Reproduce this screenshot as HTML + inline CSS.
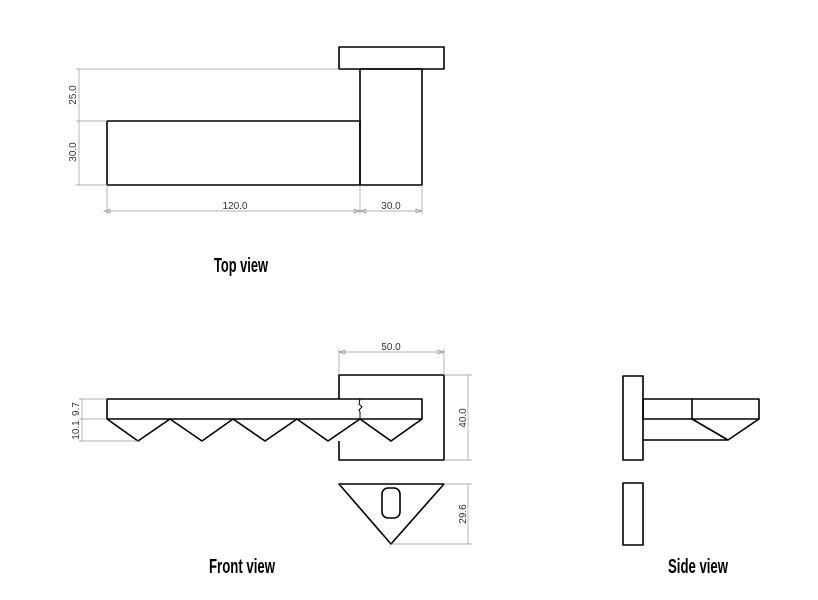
<!DOCTYPE html>
<html><head><meta charset="utf-8"><style>
html,body{margin:0;padding:0;background:#fff;}
svg{display:block;}
.o{fill:none;stroke:#000;stroke-width:1.6;stroke-linejoin:round;}
.d{fill:none;stroke:#999;stroke-width:0.7;}
.t{font-family:"Liberation Sans",sans-serif;font-size:10px;fill:#333;}
.h{font-family:"Liberation Sans Narrow","Liberation Sans",sans-serif;font-weight:bold;font-size:20px;fill:#000;}
</style></head><body>
<svg width="818" height="600" viewBox="0 0 818 600" xmlns="http://www.w3.org/2000/svg">
<!-- Top view -->
<rect class="o" x="339" y="47" width="105" height="22"/>
<rect class="o" x="360" y="69" width="62" height="116"/>
<rect class="o" x="107" y="121" width="253" height="64"/>
<path class="d" d="M79 69H339M79 121H107M79 185H107M79 69V185M76 69H82M76 121H82M76 185H82"/>
<path class="d" d="M107 185V214M360 185V214M422 185V214M107 211H422M104 211l6-2v4zM360 211l-6-2v4zM360 211l6-2v4zM422 211l-6-2v4z"/>
<text class="t" x="235" y="209" text-anchor="middle">120.0</text>
<text class="t" x="391" y="209" text-anchor="middle">30.0</text>
<text class="t" transform="translate(76,95) rotate(-90)" text-anchor="middle">25.0</text>
<text class="t" transform="translate(76,152) rotate(-90)" text-anchor="middle">30.0</text>
<text class="h" x="214" y="272" textLength="54" lengthAdjust="spacingAndGlyphs">Top view</text>
<!-- Front view -->
<path class="o" d="M339 399V375H444V460H339V441"/>
<rect class="o" x="107" y="399" width="315" height="20"/>
<path class="o" d="M107 419L138 441L170 419L202 441L233 419L265 441L297 419L328 441L360 419L391 441L422 419"/>
<path class="o" d="M360 399l-1 5l3 3l-3 3l1 2V419" style="stroke-width:1"/>
<path class="d" d="M339 375V349M444 375V349M339 352H444M339 352l6-2v4zM444 352l-6-2v4z"/>
<text class="t" x="391" y="350" text-anchor="middle">50.0</text>
<path class="d" d="M444 375H472M444 460H472M468 375V460"/>
<text class="t" transform="translate(466,418) rotate(-90)" text-anchor="middle">40.0</text>
<path class="d" d="M82 399H107M82 419H107M82 441H138M82 399V441M79 399H85M79 419H85M79 441H85"/>
<text class="t" transform="translate(79,409) rotate(-90)" text-anchor="middle">9.7</text>
<text class="t" transform="translate(79,430) rotate(-90)" text-anchor="middle">10.1</text>
<path class="o" d="M339 484H444L391 544Z"/>
<rect class="o" x="382" y="488" width="18" height="30" rx="6"/>
<path class="d" d="M444 484H472M391 544H472M468 484V544"/>
<text class="t" transform="translate(466,514) rotate(-90)" text-anchor="middle">29.6</text>
<text class="h" x="209" y="573" textLength="66" lengthAdjust="spacingAndGlyphs">Front view</text>
<!-- Side view -->
<rect class="o" x="623" y="376" width="20" height="84"/>
<rect class="o" x="643" y="399" width="116" height="20"/>
<path class="o" d="M692 399V419M643 440H728L692 419M728 440L759 419"/>
<rect class="o" x="623" y="483" width="20" height="62"/>
<text class="h" x="668" y="573" textLength="60" lengthAdjust="spacingAndGlyphs">Side view</text>
</svg>
</body></html>
